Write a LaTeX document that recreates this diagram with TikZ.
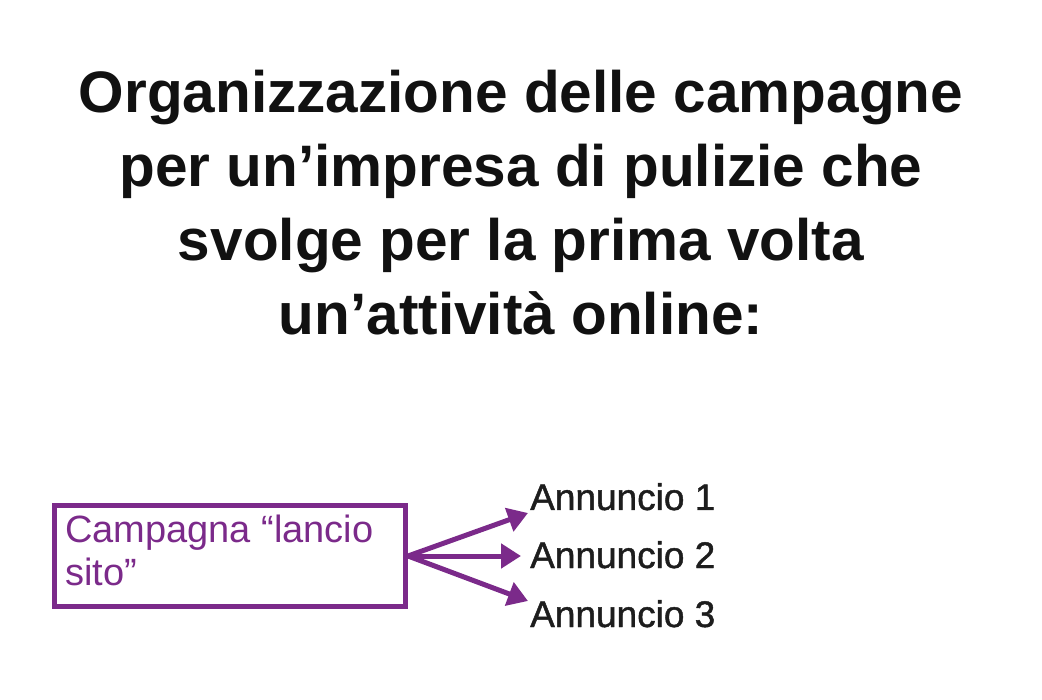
\documentclass[tikz,border=0pt]{standalone}
\usepackage{fontspec}
\setmainfont{Liberation Sans}
\newfontfamily\medfont{Liberation Sans}[FakeBold=1.2]
\usetikzlibrary{arrows.meta}
\definecolor{purp}{HTML}{7B2A8A}
\definecolor{ink}{HTML}{111111}
\begin{document}
\begin{tikzpicture}[x=1pt,y=-1pt,
  title/.style={font=\fontsize{58.5}{74}\selectfont\bfseries, text=ink, align=center, inner sep=0pt},
  boxtext/.style={font=\fontsize{38}{44}\selectfont, text=purp, align=left, inner sep=0pt},
  adtext/.style={font=\medfont\fontsize{37}{44}\selectfont, text=ink!95, inner sep=0pt, anchor=base west},
  conn/.style={draw=purp, line width=5pt, -{Triangle[length=20pt,width=24pt]}}]
\useasboundingbox (0,0) rectangle (1042,700);
\node[title, anchor=base] (t1) at (521,113) {Organizzazione delle campagne};
\node[title, anchor=base] (t2) at (521,187) {per un’impresa di pulizie che};
\node[title, anchor=base] (t3) at (521,261) {svolge per la prima volta};
\node[title, anchor=base] (t4) at (521,335) {un’attività online:};
\draw[purp, line width=5pt] (54.5,505.5) rectangle (405.5,606.5);
\coordinate (bx) at (408,556);
\node[boxtext, anchor=base west] (c1) at (65,542) {Campagna “lancio};
\node[boxtext, anchor=base west] (c2) at (65,585) {sito”};
\node[adtext] (a1) at (530,510) {Annuncio 1};
\node[adtext] (a2) at (530,568) {Annuncio 2};
\node[adtext] (a3) at (530,627) {Annuncio 3};
\coordinate (e1) at (528,513);
\coordinate (e2) at (521,556);
\coordinate (e3) at (528,601);
\draw[conn] (bx) -- (e1);
\draw[conn] (bx) -- (e2);
\draw[conn] (bx) -- (e3);
\end{tikzpicture}
\end{document}
